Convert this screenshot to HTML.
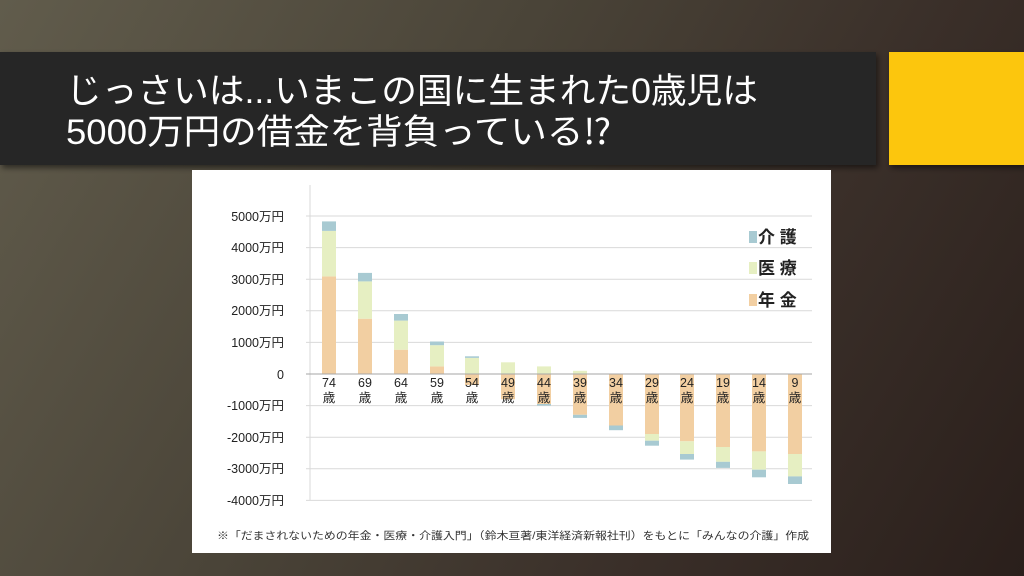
<!DOCTYPE html>
<html><head><meta charset="utf-8"><style>
html,body{margin:0;padding:0;}
body{width:1024px;height:576px;overflow:hidden;background:linear-gradient(120deg,#615c4c 0%,#4a4438 40%,#3a2f29 70%,#2a1f1b 100%);font-family:"Liberation Sans","Noto Sans CJK JP",sans-serif;}
</style></head><body>
<svg width="1024" height="576" viewBox="0 0 1024 576" xmlns="http://www.w3.org/2000/svg" style="position:absolute;left:0;top:0">
<defs><filter id="sh" x="-5%" y="-5%" width="110%" height="120%"><feDropShadow dx="2" dy="3" stdDeviation="3" flood-color="#000" flood-opacity="0.5"/></filter></defs>
<rect x="0" y="52" width="876" height="113" fill="#262626" filter="url(#sh)"/>
<rect x="889" y="52" width="135" height="113" fill="#fcc60e" filter="url(#sh)"/>
<g font-family="'Liberation Sans','Noto Sans CJK JP',sans-serif" fill="#fff" font-size="35">
<text x="66" y="103" textLength="692" lengthAdjust="spacingAndGlyphs">じっさいは...いまこの国に生まれた0歳児は</text>
<text x="66" y="144" textLength="545" lengthAdjust="spacingAndGlyphs">5000万円の借金を背負っている⁉</text>
</g>
<rect x="192" y="170" width="639" height="383" fill="#fff"/>
<g stroke="#d9d9d9" stroke-width="1">
<line x1="306" x2="812" y1="216" y2="216"/><line x1="306" x2="812" y1="247.6" y2="247.6"/>
<line x1="306" x2="812" y1="279.2" y2="279.2"/><line x1="306" x2="812" y1="310.8" y2="310.8"/>
<line x1="306" x2="812" y1="342.4" y2="342.4"/><line x1="306" x2="812" y1="405.6" y2="405.6"/>
<line x1="306" x2="812" y1="437.2" y2="437.2"/><line x1="306" x2="812" y1="468.8" y2="468.8"/>
<line x1="306" x2="812" y1="500.4" y2="500.4"/>
<line x1="310" x2="310" y1="185" y2="500"/>
</g>
<g font-size="12.5" fill="#222" text-anchor="end" font-family="'Liberation Sans','Noto Sans CJK JP',sans-serif">
<text x="284" y="221">5000万円</text><text x="284" y="252">4000万円</text><text x="284" y="284">3000万円</text>
<text x="284" y="315">2000万円</text><text x="284" y="347">1000万円</text><text x="284" y="379">0</text>
<text x="284" y="410">-1000万円</text><text x="284" y="442">-2000万円</text><text x="284" y="473">-3000万円</text>
<text x="284" y="505">-4000万円</text>
</g>
<g>
<g fill="#f2cfa2">
<rect x="322" y="276.4" width="14" height="97.6"/><rect x="358" y="318.7" width="14" height="55.3"/>
<rect x="394" y="349.7" width="14" height="24.3"/><rect x="430" y="366.4" width="14" height="7.6"/>
<rect x="465" y="374" width="14" height="11"/><rect x="501" y="374" width="14" height="25.3"/>
<rect x="537" y="374" width="14" height="30"/><rect x="573" y="374" width="14" height="40.8"/>
<rect x="609" y="374" width="14" height="51.5"/><rect x="645" y="374" width="14" height="60"/>
<rect x="680" y="374" width="14" height="67.3"/><rect x="716" y="374" width="14" height="73"/>
<rect x="752" y="374" width="14" height="77.4"/><rect x="788" y="374" width="14" height="80"/>
</g>
<g fill="#e6efc2">
<rect x="322" y="230.9" width="14" height="45.5"/><rect x="358" y="281.4" width="14" height="37.3"/>
<rect x="394" y="320.6" width="14" height="29.1"/><rect x="430" y="345.2" width="14" height="21.2"/>
<rect x="465" y="357.9" width="14" height="16.1"/><rect x="501" y="362.3" width="14" height="11.7"/>
<rect x="537" y="366.4" width="14" height="7.6"/><rect x="573" y="370.8" width="14" height="3.2"/>
<rect x="645" y="434" width="14" height="6.7"/><rect x="680" y="441.3" width="14" height="12.7"/>
<rect x="716" y="447" width="14" height="14.8"/><rect x="752" y="451.4" width="14" height="18.3"/>
<rect x="788" y="454" width="14" height="22.4"/>
</g>
<g fill="#a8cad2">
<rect x="322" y="221.4" width="14" height="9.5"/><rect x="358" y="272.9" width="14" height="8.5"/>
<rect x="394" y="314" width="14" height="6.6"/><rect x="430" y="341.5" width="14" height="3.7"/>
<rect x="465" y="356.3" width="14" height="1.6"/><rect x="537" y="404" width="14" height="1.6"/>
<rect x="573" y="414.8" width="14" height="3.1"/><rect x="609" y="425.5" width="14" height="4.7"/>
<rect x="645" y="440.7" width="14" height="5"/><rect x="680" y="454" width="14" height="5.6"/>
<rect x="716" y="461.8" width="14" height="6.1"/><rect x="752" y="469.7" width="14" height="7.6"/>
<rect x="788" y="476.4" width="14" height="7.6"/>
</g>
</g>
<line x1="306" x2="812" y1="374" y2="374" stroke="#a6a6a6" stroke-width="1"/>
<g font-size="12.5" fill="#222" text-anchor="middle" font-family="'Liberation Sans','Noto Sans CJK JP',sans-serif">
<text x="329" y="387">74</text><text x="365" y="387">69</text><text x="401" y="387">64</text><text x="437" y="387">59</text>
<text x="472" y="387">54</text><text x="508" y="387">49</text><text x="544" y="387">44</text><text x="580" y="387">39</text>
<text x="616" y="387">34</text><text x="652" y="387">29</text><text x="687" y="387">24</text><text x="723" y="387">19</text>
<text x="759" y="387">14</text><text x="795" y="387">9</text>
<text x="329" y="402">歳</text><text x="365" y="402">歳</text><text x="401" y="402">歳</text><text x="437" y="402">歳</text>
<text x="472" y="402">歳</text><text x="508" y="402">歳</text><text x="544" y="402">歳</text><text x="580" y="402">歳</text>
<text x="616" y="402">歳</text><text x="652" y="402">歳</text><text x="687" y="402">歳</text><text x="723" y="402">歳</text>
<text x="759" y="402">歳</text><text x="795" y="402">歳</text>
</g>
<rect x="749" y="231" width="8" height="12" fill="#a8cad2"/>
<rect x="749" y="262" width="8" height="12" fill="#e6efc2"/>
<rect x="749" y="294" width="8" height="12" fill="#f2cfa2"/>
<g font-size="17" font-weight="bold" fill="#222" font-family="'Liberation Sans','Noto Sans CJK JP',sans-serif">
<text x="758" y="243">介 護</text><text x="758" y="274">医 療</text><text x="758" y="306">年 金</text>
</g>
<text x="217" y="539" font-size="10.5" fill="#333" textLength="592" lengthAdjust="spacingAndGlyphs" font-family="'Liberation Sans','Noto Sans CJK JP',sans-serif">※「だまされないための年金・医療・介護入門」（鈴木亘著/東洋経済新報社刊）をもとに「みんなの介護」作成</text>
</svg>
</body></html>
